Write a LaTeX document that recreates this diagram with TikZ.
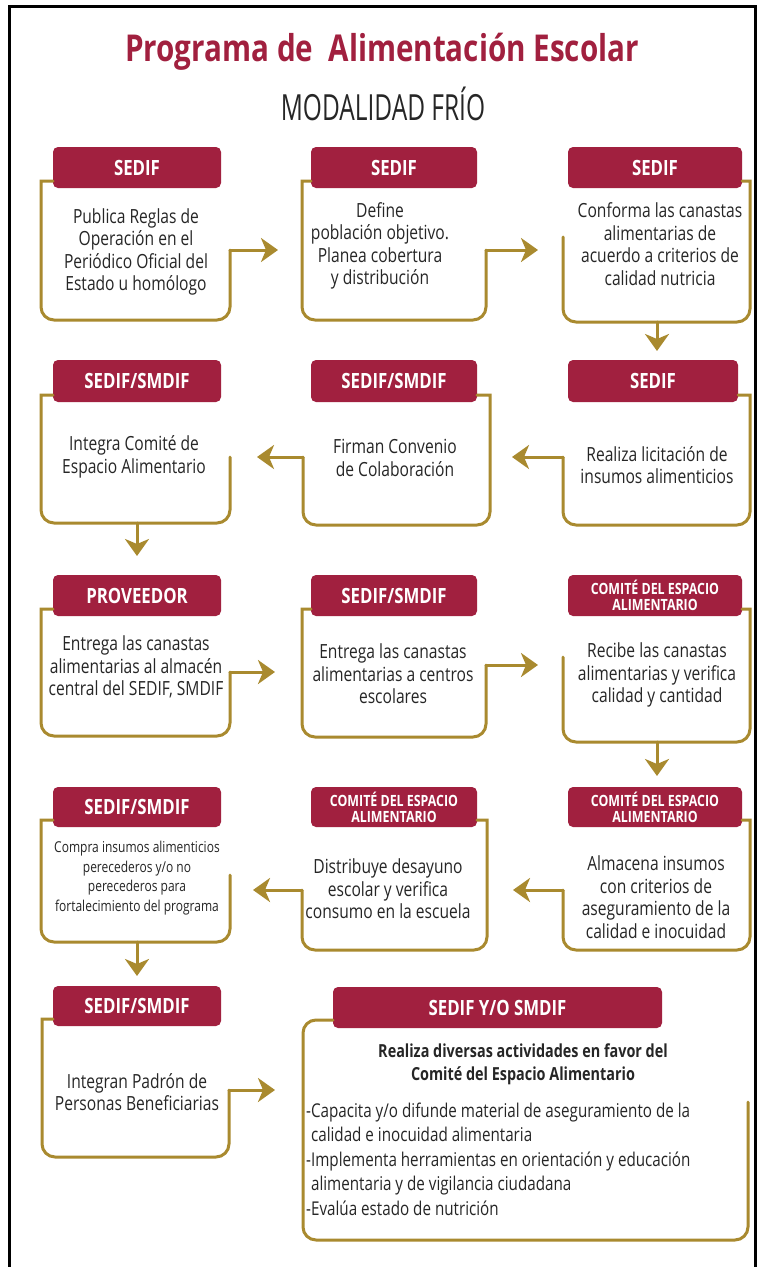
\documentclass[tikz,border=0pt]{standalone}
\usepackage{fontspec}
\setmainfont{Open Sans}[FakeStretch=0.8]
\newfontfamily\subfont{Open Sans}[FakeStretch=0.68]
\usetikzlibrary{arrows.meta}
\definecolor{guinda}{HTML}{A1203F}
\definecolor{oro}{HTML}{A98A2F}
\definecolor{txt}{HTML}{262626}
\newcommand\lbx[7]{% hx, ty, lx, by, rx, endy, name
  \draw[outl] (#1,#2) .. controls (#3,#2) .. (#3,#2+13) -- (#3,#4) -- (#5,#4) -- (#5,#6) coordinate (#7);}
\newcommand\rbx[7]{% hx, ty, rx, by, lx, endy, name
  \draw[outl] (#1,#2) .. controls (#3,#2) .. (#3,#2+13) -- (#3,#4) -- (#5,#4) -- (#5,#6) coordinate (#7);}
\begin{document}
\begin{tikzpicture}[x=1pt,y=-1pt,
  hdr/.style={fill=guinda, rounded corners=5pt, text=white, font=\bfseries\fontsize{21}{23}\selectfont, inner sep=0pt, align=center},
  hdrs/.style={hdr, font=\bfseries\fontsize{15.5}{16}\selectfont},
  body/.style={text=txt, font=\fontsize{19.5}{22.5}\selectfont, align=center, inner sep=0pt},
  outl/.style={draw=oro, line width=3pt, rounded corners=13pt, line cap=round},
  arr/.style={draw=oro, line width=3pt, line cap=round, -{Stealth[length=17pt,width=24pt,inset=5pt]}},
]
\useasboundingbox (0,0) rectangle (764,1267);
\fill[white] (0,0) rectangle (764,1267);
\draw[line width=3pt] (9,1267) -- (9,6.5) -- (755,6.5) -- (755,1267);

\node[text=guinda, font=\bfseries\fontsize{37}{40}\selectfont] (title) at (382,52) {Programa de\ \ Alimentación Escolar};
\node[text=black!85, font=\subfont\fontsize{36}{38}\selectfont] (sub) at (383,104) {MODALIDAD FRÍO};

% headers
\node[hdr, minimum width=168pt, minimum height=41pt] (hA) at (137,167.5) {SEDIF};
\node[hdr, minimum width=166pt, minimum height=41pt] (hB) at (394,167.5) {SEDIF};
\node[hdr, minimum width=174pt, minimum height=41pt] (hC) at (655,167.5) {SEDIF};
\node[hdr, minimum width=168pt, minimum height=42pt] (hD) at (137,381) {SEDIF/SMDIF};
\node[hdr, minimum width=166pt, minimum height=42pt] (hE) at (394,381) {SEDIF/SMDIF};
\node[hdr, minimum width=170pt, minimum height=42pt] (hF) at (653,381) {SEDIF};
\node[hdr, minimum width=168pt, minimum height=41pt] (hG) at (137,595.5) {PROVEEDOR};
\node[hdr, minimum width=166pt, minimum height=41pt] (hH) at (394,595.5) {SEDIF/SMDIF};
\node[hdrs, minimum width=174pt, minimum height=41pt] (hI) at (655,595.5) {COMITÉ DEL ESPACIO\\ALIMENTARIO};
\node[hdr, minimum width=168pt, minimum height=40pt] (hJ) at (137,807) {SEDIF/SMDIF};
\node[hdrs, minimum width=166pt, minimum height=40pt] (hK) at (394,807) {COMITÉ DEL ESPACIO\\ALIMENTARIO};
\node[hdrs, minimum width=174pt, minimum height=40pt] (hL) at (655,807) {COMITÉ DEL ESPACIO\\ALIMENTARIO};
\node[hdr, minimum width=168pt, minimum height=40pt] (hM) at (137,1006) {SEDIF/SMDIF};
\node[hdr, minimum width=329pt, minimum height=41pt] (hN) at (497.5,1007.5) {SEDIF Y/O SMDIF};

% outlines
\lbx{53}{181}{41}{320}{230}{250}{A-out}
\lbx{311}{181}{302}{320}{486}{250}{B-out}
\rbx{742}{181}{750}{322}{563}{237}{C-end}
\lbx{53}{395}{41}{523}{230}{457}{D-end}
\rbx{477}{395}{490}{525}{303}{457}{E-out}
\rbx{738}{395}{750}{525}{563}{457}{F-out}
\lbx{53}{609}{41}{736}{230}{672}{G-out}
\lbx{311}{609}{302}{737}{486}{665}{H-out}
\rbx{742}{609}{750}{742}{563}{657}{I-end}
\lbx{53}{820}{41}{942}{230}{875}{J-end}
\rbx{477}{820}{487}{950}{302}{890}{K-out}
\rbx{742}{820}{750}{950}{563}{890}{L-out}
\lbx{53}{1019}{42}{1157}{229}{1090}{M-out}
\draw[outl] (333,1020) -- (303,1020) -- (303,1240) -- (748,1240) -- (748,1102) coordinate (N-end);

% connector points
\coordinate (B-in) at (278,250);
\coordinate (C-in) at (538,250);
\coordinate (C-bot) at (657,322);
\coordinate (F-in) at (657,351);
\coordinate (E-in) at (512,457);
\coordinate (D-in) at (257,457);
\coordinate (D-bot) at (137,523);
\coordinate (G-in) at (137,556);
\coordinate (H-in) at (275,672);
\coordinate (I-in) at (538,665);
\coordinate (I-bot) at (657,742);
\coordinate (L-in) at (657,776);
\coordinate (K-in) at (513,890);
\coordinate (J-in) at (253,890);
\coordinate (J-bot) at (137,942);
\coordinate (M-in) at (137,976);
\coordinate (N-in) at (275,1090);

\draw[arr] (A-out) -- (B-in);
\draw[arr] (B-out) -- (C-in);
\draw[arr] (C-bot) -- (F-in);
\draw[arr] (F-out) -- (E-in);
\draw[arr] (E-out) -- (D-in);
\draw[arr] (D-bot) -- (G-in);
\draw[arr] (G-out) -- (H-in);
\draw[arr] (H-out) -- (I-in);
\draw[arr] (I-bot) -- (L-in);
\draw[arr] (L-out) -- (K-in);
\draw[arr] (K-out) -- (J-in);
\draw[arr] (J-bot) -- (M-in);
\draw[arr] (M-out) -- (N-in);

% texts
\node[body] (tA) at (136,252) {Publica Reglas de\\Operación en el\\Periódico Oficial del\\Estado u homólogo};
\node[body] (tB) at (380,246) {Define\\población objetivo.\\Planea cobertura\\y distribución};
\node[body] (tC) at (660,244) {Conforma las canastas\\alimentarias de\\acuerdo a criterios de\\calidad nutricia};
\node[body] (tD) at (134,457) {Integra Comité de\\Espacio Alimentario};
\node[body] (tE) at (395,458) {Firman Convenio\\de Colaboración};
\node[body] (tF) at (657,465) {Realiza licitación de\\insumos alimenticios};
\node[body] (tG) at (136,667) {Entrega las canastas\\alimentarias al almacén\\central del SEDIF, SMDIF};
\node[body] (tH) at (393,674) {Entrega las canastas\\alimentarias a centros\\escolares};
\node[body] (tI) at (657,675) {Recibe las canastas\\alimentarias y verifica\\calidad y cantidad};
\node[body, font=\fontsize{15}{19.5}\selectfont] (tJ) at (137,878) {Compra insumos alimenticios\\perecederos y/o no\\perecederos para\\fortalecimiento del programa};
\node[body] (tK) at (388,889) {Distribuye desayuno\\escolar y verifica\\consumo en la escuela};
\node[body] (tL) at (656,897) {Almacena insumos\\con criterios de\\aseguramiento de la\\calidad e inocuidad};
\node[body] (tM) at (137,1092) {Integran Padrón de\\Personas Beneficiarias};
\node[body, font=\bfseries\fontsize{18}{23}\selectfont] (tN1) at (523,1064) {Realiza diversas actividades en favor del\\Comité del Espacio Alimentario};
\node[body, align=left, anchor=west, font=\fontsize{19}{24.5}\selectfont] (tN2) at (306,1159) {-Capacita y/o difunde material de aseguramiento de la\\\phantom{-}calidad e inocuidad alimentaria\\-Implementa herramientas en orientación y educación\\\phantom{-}alimentaria y de vigilancia ciudadana\\-Evalúa estado de nutrición};
\end{tikzpicture}
\end{document}
